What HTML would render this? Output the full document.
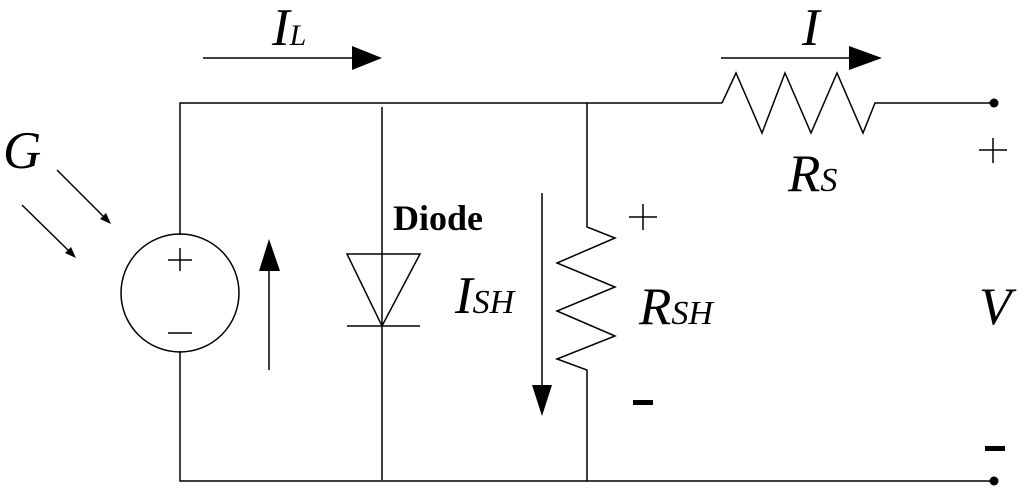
<!DOCTYPE html>
<html><head><style>html,body{margin:0;padding:0;background:#fff;}svg{display:block}</style></head>
<body>
<svg width="1024" height="496" viewBox="0 0 1024 496" xmlns="http://www.w3.org/2000/svg" font-family="Liberation Serif, serif">
<g stroke="#000" stroke-width="1.5" fill="none">
<polyline points="180,235 180,103 722,103"/>
<polyline points="180,351 180,481 994,481"/>
<line x1="382" y1="107" x2="382" y2="480"/>
<circle cx="180" cy="293" r="59"/>
<line x1="168" y1="260" x2="192" y2="260"/><line x1="180" y1="248" x2="180" y2="271"/>
<line x1="168" y1="333" x2="192" y2="333"/>
<polygon points="347,254 420,254 382,326"/>
<line x1="347" y1="326" x2="420" y2="326"/>
<polyline points="587,103 587,227 615,238 557,263 615,287 557,311 615,336 557,359 587,370 587,481"/>
<polyline points="722,103 736,73 762,133 785,73 811,133 837,73 863,133 875,103 994,103"/>
<line x1="203" y1="58" x2="355" y2="58"/>
<line x1="721" y1="58" x2="852" y2="58"/>
<line x1="269" y1="370" x2="269" y2="268"/>
<line x1="542" y1="193" x2="542" y2="388"/>
<line x1="57" y1="170" x2="105" y2="218"/>
<line x1="22" y1="205" x2="70" y2="252"/>
<line x1="629" y1="217" x2="657" y2="217"/><line x1="643" y1="204" x2="643" y2="230"/>
<line x1="979" y1="150" x2="1007" y2="150"/><line x1="993" y1="138" x2="993" y2="163"/>
</g>
<g fill="#000">
<polygon points="352,46 382,58 352,70"/>
<polygon points="849,46 882,58 849,70"/>
<polygon points="259,271 269,239 280,271"/>
<polygon points="532,385 542,416 552,385"/>
<polygon points="100,219 111,224 106,213"/>
<polygon points="65,253 76,258 71,247"/>
<circle cx="994" cy="103" r="4.5"/>
<circle cx="994" cy="481" r="4.5"/>
<rect x="633" y="400" width="20" height="5"/>
<rect x="985" y="446" width="20" height="5"/>
</g>
<g font-style="italic" fill="#000">
<text x="272" y="45" font-size="53">I<tspan font-size="30">L</tspan></text>
<text x="802" y="45" font-size="53">I</text>
<text x="3" y="168" font-size="53">G</text>
<text x="455" y="313" font-size="53">I<tspan font-size="34">SH</tspan></text>
<text x="639" y="324" font-size="53">R<tspan font-size="34">SH</tspan></text>
<text x="788" y="191" font-size="53">R<tspan font-size="34">S</tspan></text>
<text x="979" y="324" font-size="53">V</text>
</g>
<text x="393" y="230" font-size="36" font-weight="bold">Diode</text>
</svg>
</body></html>
